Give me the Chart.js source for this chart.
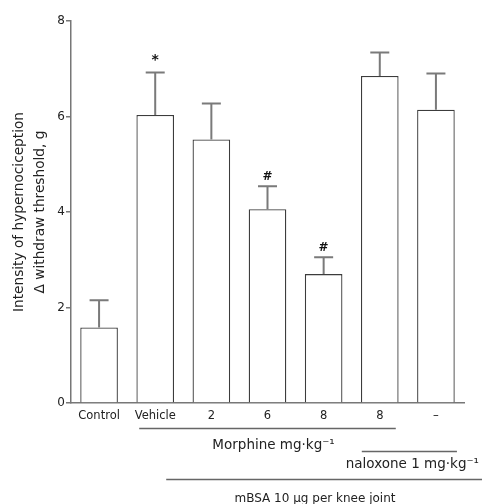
<!DOCTYPE html>
<html><head><meta charset="utf-8">
<script src="https://cdn.jsdelivr.net/npm/chart.js@4/dist/chart.umd.min.js"></script>
<style>html,body{margin:0;padding:0;background:#fff;overflow:hidden}</style>
</head><body>
<canvas id="c" width="482" height="504" style="display:block;width:482px;height:504px"></canvas>
<script>
const categories = ['Control', 'Vehicle', '2', '6', '8', '8', '–'];
const means = [1.58, 6.03, 5.52, 4.06, 2.70, 6.85, 6.14];
const sem = [0.57, 0.89, 0.75, 0.48, 0.35, 0.49, 0.76];
const marks = ['', '*', '', '#', '#', '', ''];
const yTicks = [0, 2, 4, 6, 8];
const yTitle = ['Intensity of hypernociception', 'Δ withdraw threshold, g'];
const morphineLabel = 'Morphine mg·kg⁻¹';
const naloxoneLabel = 'naloxone 1 mg·kg⁻¹';
const mbsaLabel = 'mBSA 10 µg per knee joint';

const FONT = 'DejaVu Sans';
const TXT = '#222';
const AX = '#777';

const errorBars = {
  id: 'errorBars',
  afterDatasetsDraw(chart) {
    const ctx = chart.ctx;
    const meta = chart.getDatasetMeta(0);
    const y = chart.scales.y;
    ctx.save();
    meta.data.forEach((bar, i) => {
      const yTop = y.getPixelForValue(means[i] + sem[i]);
      const yBar = y.getPixelForValue(means[i]);
      ctx.strokeStyle = '#7a7a7a';
      ctx.lineWidth = 2;
      ctx.beginPath();
      ctx.moveTo(bar.x, yBar);
      ctx.lineTo(bar.x, yTop);
      ctx.moveTo(bar.x - 9.5, yTop);
      ctx.lineTo(bar.x + 9.5, yTop);
      ctx.stroke();
      if (marks[i]) {
        ctx.fillStyle = '#111';
        ctx.font = 'bold ' + (marks[i] === '*' ? 14 : 12) + 'px "' + FONT + '"';
        ctx.textAlign = 'center';
        ctx.textBaseline = 'alphabetic';
        ctx.fillText(marks[i], bar.x, yTop - (marks[i] === '*' ? 9 : 6));
      }
    });
    ctx.restore();
  }
};

const groupLabels = {
  id: 'groupLabels',
  afterDraw(chart) {
    const ctx = chart.ctx;
    const x = chart.scales.x;
    const xs = i => x.getPixelForValue(i);
    ctx.save();
    ctx.strokeStyle = '#666';
    ctx.lineWidth = 1.3;
    ctx.fillStyle = TXT;
    ctx.textBaseline = 'alphabetic';
    ctx.beginPath();
    ctx.moveTo(xs(1) - 16, 428.5); ctx.lineTo(xs(5) + 16, 428.5);
    ctx.moveTo(xs(5) - 18, 451.5); ctx.lineTo(xs(6) + 21, 451.5);
    ctx.moveTo(xs(1) + 11, 479.5); ctx.lineTo(chart.width, 479.5);
    ctx.stroke();
    ctx.font = '13.5px "' + FONT + '"';
    ctx.textAlign = 'left';
    ctx.fillText(morphineLabel, xs(2) + 1, 449);
    ctx.textAlign = 'right';
    ctx.fillText(naloxoneLabel, chart.width - 3, 468);
    ctx.font = '12px "' + FONT + '"';
    ctx.textAlign = 'center';
    ctx.fillText(mbsaLabel, 315, 502);
    ctx.restore();
  }
};

new Chart(document.getElementById('c'), {
  type: 'bar',
  data: {
    labels: categories,
    datasets: [{
      data: means,
      backgroundColor: '#ffffff',
      borderColor: '#3c3c3c',
      borderWidth: 1.3,
      categoryPercentage: 1,
      barPercentage: 0.67
    }]
  },
  options: {
    responsive: false,
    animation: false,
    devicePixelRatio: 1,
    layout: { padding: { top: 21, right: 18, left: 0, bottom: 0 } },
    plugins: { legend: { display: false }, tooltip: { enabled: false } },
    scales: {
      x: {
        grid: { display: false, drawTicks: false },
        border: { display: true, color: AX, width: 1.5 },
        ticks: { color: TXT, font: { family: FONT, size: 11.5 }, padding: 6, maxRotation: 0, autoSkip: false },
        afterFit: s => { s.height = 101; }
      },
      y: {
        min: 0, max: 8,
        afterBuildTicks: s => { s.ticks = yTicks.map(v => ({ value: v })); },
        grid: { drawOnChartArea: false, drawTicks: true, tickLength: 5, color: AX, lineWidth: 1.5 },
        border: { display: true, color: AX, width: 1.5 },
        ticks: { color: TXT, font: { family: FONT, size: 12 }, padding: 1 },
        title: {
          display: true, text: yTitle, color: TXT,
          font: { family: FONT, size: 13.7, lineHeight: 1.6 },
          padding: { top: 8, bottom: 0 }
        },
        afterFit: s => { s.width = 71; }
      }
    }
  },
  plugins: [errorBars, groupLabels]
});
</script>
</body></html>
